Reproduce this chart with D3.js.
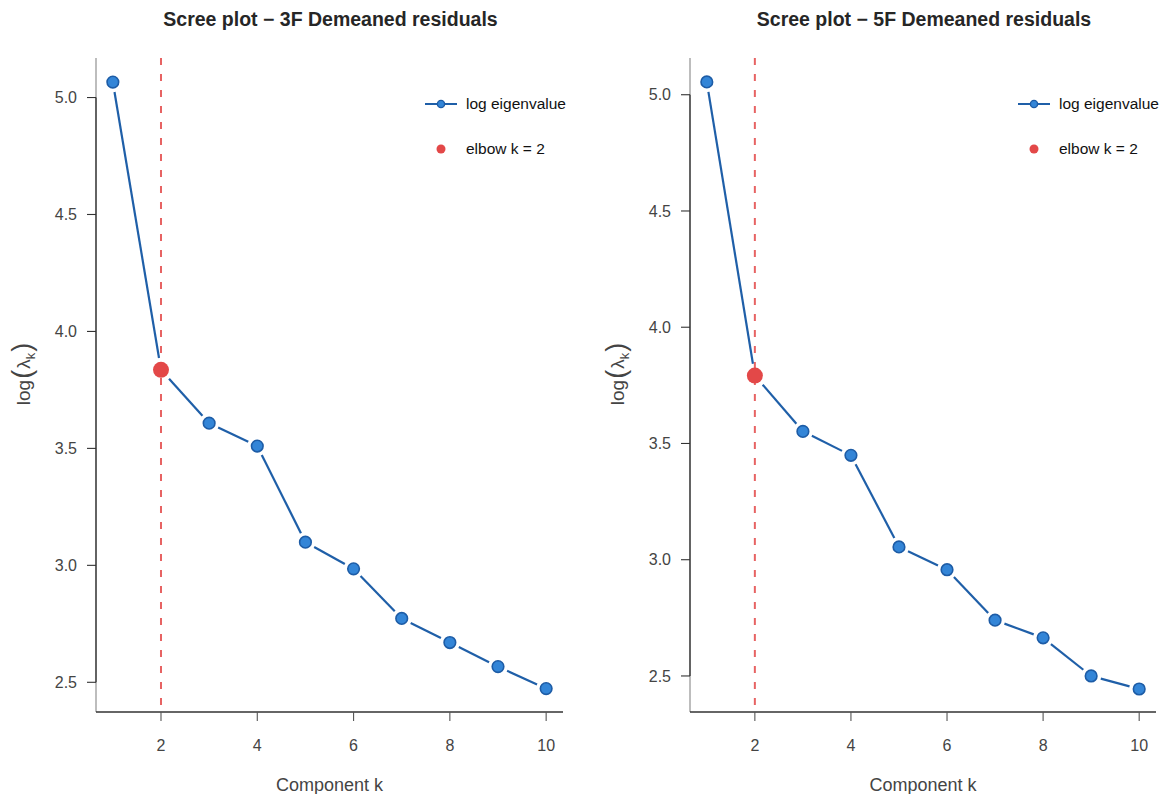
<!DOCTYPE html>
<html>
<head>
<meta charset="utf-8">
<script src="https://cdn.jsdelivr.net/npm/d3@7"></script>
<style>
  body { margin: 0; background: #fff; }
  svg text { font-family: "Liberation Sans", Arial, Helvetica, sans-serif; }
</style>
</head>
<body>
<div id="chart"></div>
<script>
// component index
var components = [1, 2, 3, 4, 5, 6, 7, 8, 9, 10];

// log eigenvalues
var logEig3F = [5.066, 3.836, 3.608, 3.510, 3.099, 2.985, 2.773, 2.670, 2.567, 2.473];
var logEig5F = [5.055, 3.792, 3.552, 3.449, 3.055, 2.957, 2.740, 2.664, 2.500, 2.444];

var yTicks = [2.5, 3.0, 3.5, 4.0, 4.5, 5.0];
var xTicks = [2, 4, 6, 8, 10];
var elbowK = 2;

var titles = ["Scree plot \u2212 3F Demeaned residuals", "Scree plot \u2212 5F Demeaned residuals"];

var W = 1161, H = 794;

var panels = [
  { title: titles[0], values: logEig3F, left: 96, right: 563, top: 58, bottom: 712, yDomain: [2.373, 5.169], legendX: 425 },
  { title: titles[1], values: logEig5F, left: 690, right: 1156, top: 58, bottom: 712, yDomain: [2.345, 5.158], legendX: 1018 }
];

var lineColor = "#1f5fa8",
    dotFill = "#3385d7",
    dotStroke = "#1d5ca6",
    red = "#e34848";

var svg = d3.select("#chart").append("svg")
  .attr("width", W)
  .attr("height", H);

panels.forEach(function (p) {
  var x = d3.scaleLinear().domain([0.65, 10.35]).range([p.left, p.right]);
  var y = d3.scaleLinear().domain(p.yDomain).range([p.bottom, p.top]);
  var g = svg.append("g");
  var cx = (p.left + p.right) / 2;

  // title
  g.append("text")
    .attr("x", cx + 1).attr("y", 26)
    .attr("text-anchor", "middle")
    .style("font-size", "19.5px").style("font-weight", "bold")
    .attr("fill", "#262626")
    .text(p.title);

  // y spine: light outside tick range, dark inside
  g.append("line")
    .attr("x1", p.left).attr("x2", p.left)
    .attr("y1", p.top).attr("y2", p.bottom)
    .attr("stroke", "#9a9a9a").attr("stroke-width", 1.3);
  g.append("line")
    .attr("x1", p.left).attr("x2", p.left)
    .attr("y1", y(5.0)).attr("y2", y(2.5))
    .attr("stroke", "#333").attr("stroke-width", 1.3);

  // x spine
  g.append("line")
    .attr("x1", p.left).attr("x2", p.right)
    .attr("y1", p.bottom).attr("y2", p.bottom)
    .attr("stroke", "#333").attr("stroke-width", 1.3);

  // y ticks
  var yt = g.selectAll(".yt").data(yTicks).enter().append("g");
  yt.append("line")
    .attr("x1", p.left - 9).attr("x2", p.left)
    .attr("y1", function (d) { return y(d); }).attr("y2", function (d) { return y(d); })
    .attr("stroke", "#333").attr("stroke-width", 1.1);
  yt.append("text")
    .attr("x", p.left - 19).attr("y", function (d) { return y(d); })
    .attr("dy", "0.35em").attr("text-anchor", "end")
    .style("font-size", "16px").attr("fill", "#444")
    .text(function (d) { return d.toFixed(1); });

  // x ticks
  var xt = g.selectAll(".xt").data(xTicks).enter().append("g");
  xt.append("line")
    .attr("x1", function (d) { return x(d); }).attr("x2", function (d) { return x(d); })
    .attr("y1", p.bottom).attr("y2", p.bottom + 9)
    .attr("stroke", "#555").attr("stroke-width", 1.1);
  xt.append("text")
    .attr("x", function (d) { return x(d); }).attr("y", p.bottom + 39)
    .attr("text-anchor", "middle")
    .style("font-size", "16px").attr("fill", "#444")
    .text(function (d) { return d; });

  // axis labels
  g.append("text")
    .attr("x", cx).attr("y", 791)
    .attr("text-anchor", "middle")
    .style("font-size", "18px").attr("fill", "#444")
    .text("Component k");

  var yl = g.append("text")
    .attr("transform", "translate(" + (p.left - 66) + "," + 374 + ") rotate(-90)")
    .attr("text-anchor", "middle")
    .style("font-size", "19px").attr("fill", "#444");
  yl.append("tspan").text("log");
  yl.append("tspan").attr("dx", 1).style("font-size", "27px").attr("dy", 1).text("(");
  yl.append("tspan").attr("dx", 1).attr("dy", -1).style("font-size", "19px").text("\u03bb");
  yl.append("tspan").attr("dy", 5).style("font-size", "13px").text("k");
  yl.append("tspan").attr("dx", 1).attr("dy", -4).style("font-size", "27px").text(")");

  // elbow line
  g.append("line")
    .attr("x1", x(elbowK)).attr("x2", x(elbowK))
    .attr("y1", p.top).attr("y2", p.bottom)
    .attr("stroke", red).attr("stroke-opacity", 0.85)
    .attr("stroke-width", 2).attr("stroke-dasharray", "7,9");

  // line segments, trimmed short of the markers
  var pts = components.map(function (k, i) { return [x(k), y(p.values[i])]; });
  var gap = 10;
  for (var i = 0; i < pts.length - 1; i++) {
    var a = pts[i], b = pts[i + 1];
    var dx = b[0] - a[0], dy = b[1] - a[1], len = Math.sqrt(dx * dx + dy * dy);
    var ux = dx / len, uy = dy / len;
    var ga = components[i] === elbowK ? gap + 2 : gap;
    var gb = components[i + 1] === elbowK ? gap + 2 : gap;
    g.append("line")
      .attr("x1", a[0] + ux * ga).attr("y1", a[1] + uy * ga)
      .attr("x2", b[0] - ux * gb).attr("y2", b[1] - uy * gb)
      .attr("stroke", lineColor).attr("stroke-width", 2.2);
  }

  // markers
  g.selectAll(".dot").data(components.filter(function (k) { return k !== elbowK; }))
    .enter().append("circle")
    .attr("cx", function (k) { return x(k); })
    .attr("cy", function (k) { return y(p.values[k - 1]); })
    .attr("r", 5.8)
    .attr("fill", dotFill).attr("stroke", dotStroke).attr("stroke-width", 1.6);

  g.append("circle")
    .attr("cx", x(elbowK)).attr("cy", y(p.values[elbowK - 1]))
    .attr("r", 8).attr("fill", red);

  // legend
  var lx = p.legendX;
  g.append("line")
    .attr("x1", lx).attr("x2", lx + 32).attr("y1", 104).attr("y2", 104)
    .attr("stroke", lineColor).attr("stroke-width", 2);
  g.append("circle")
    .attr("cx", lx + 16).attr("cy", 104).attr("r", 3.6)
    .attr("fill", dotFill).attr("stroke", dotStroke).attr("stroke-width", 1.4);
  g.append("text")
    .attr("x", lx + 41).attr("y", 104).attr("dy", "0.35em")
    .style("font-size", "15.5px").attr("fill", "#111")
    .text("log eigenvalue");
  g.append("circle")
    .attr("cx", lx + 16).attr("cy", 149).attr("r", 4.5).attr("fill", red);
  g.append("text")
    .attr("x", lx + 41).attr("y", 149).attr("dy", "0.35em")
    .style("font-size", "15.5px").attr("fill", "#111")
    .text("elbow k = " + elbowK);
});
</script>
</body>
</html>
